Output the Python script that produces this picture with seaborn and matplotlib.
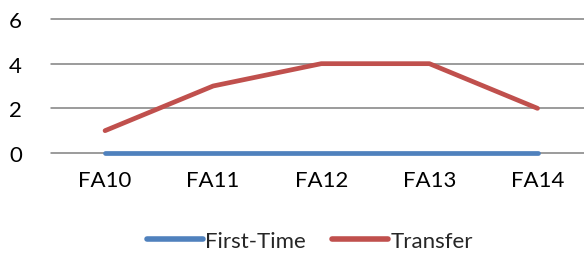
import pandas as pd
import matplotlib
matplotlib.use("Agg")
import matplotlib.pyplot as plt
import seaborn as sns

# chart data
terms = ["FA10", "FA11", "FA12", "FA13", "FA14"]
first_time = [0, 0, 0, 0, 0]
transfer = [1, 3, 4, 4, 2]

df = pd.DataFrame({"Term": terms * 2,
                   "Count": first_time + transfer,
                   "Type": ["First-Time"] * 5 + ["Transfer"] * 5})

sns.set_style("white")
plt.rcParams["font.family"] = ["Lato", "DejaVu Sans"]

fig = plt.figure(figsize=(5.84, 2.55), dpi=100)
ax = fig.add_axes([51 / 584, 1 - 154 / 255, 1 - 51 / 584, (154 - 20) / 255])

sns.lineplot(data=df, x="Term", y="Count", hue="Type",
             palette={"First-Time": "#4F81BD", "Transfer": "#C0504D"},
             linewidth=3.4, solid_capstyle="round", ax=ax, legend=False, sort=False)

ax.set_xlim(-0.5, 4.43)
ax.set_ylim(0, 6)
ax.set_yticks([0, 2, 4, 6])
ax.grid(axis="y", color="#808080", linewidth=1.1)
for g in ax.get_ygridlines():
    g.set_clip_on(False)
ax.set_axisbelow(True)
for s in ax.spines.values():
    s.set_visible(False)
ax.set_xlabel("")
ax.set_ylabel("")
ax.tick_params(axis="both", length=0, labelsize=16, colors="black")
ax.tick_params(axis="x", pad=12)
ax.tick_params(axis="y", pad=21)
for ln in ax.get_lines():
    ln.set_clip_on(False)

handles = [plt.Line2D([], [], color="#4F81BD", linewidth=4, solid_capstyle="round"),
           plt.Line2D([], [], color="#C0504D", linewidth=4, solid_capstyle="round")]
fig.legend(handles, ["First-Time", "Transfer"], loc="center",
           bbox_to_anchor=(310 / 584, 1 - 242 / 255), ncol=2, frameon=False,
           fontsize=16, handlelength=2.5, handletextpad=0.1, columnspacing=1.2)

fig.savefig("out.png", dpi=100)
